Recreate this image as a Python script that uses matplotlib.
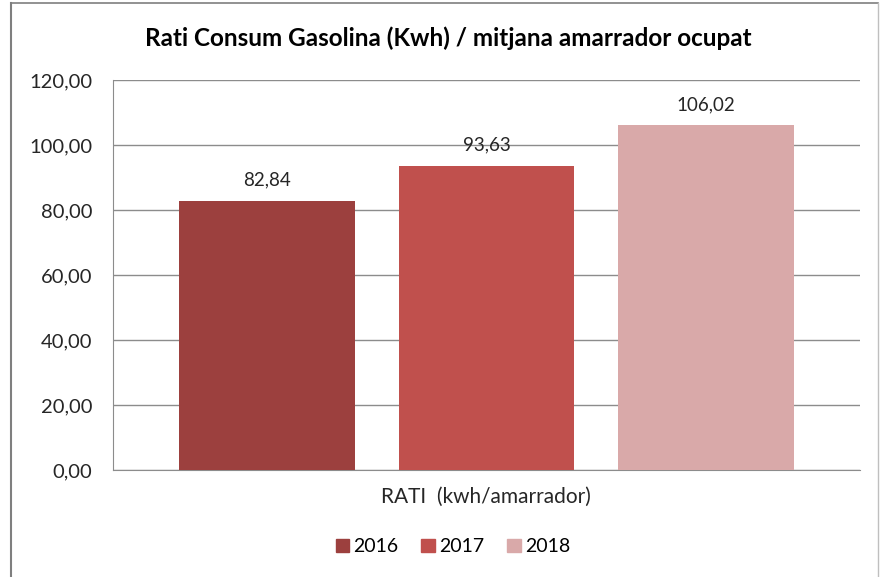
import matplotlib.pyplot as plt
from matplotlib.lines import Line2D

plt.rcParams['font.family'] = ['Lato', 'DejaVu Sans']

# data
years = ['2016', '2017', '2018']
values = [82.84, 93.63, 106.02]
colors = ['#9C403E', '#C0504D', '#D9A9A9']
category = 'RATI  (kwh/amarrador)'
title = 'Rati Consum Gasolina (Kwh) / mitjana amarrador ocupat'


def fmt(v):
    return '{:.2f}'.format(v).replace('.', ',')


fig = plt.figure(figsize=(8.81, 5.77), dpi=100)
ax = fig.add_axes([0.1283, 0.1854, 0.976 - 0.1283, 0.8614 - 0.1854])

positions = [-1, 0, 1]
bars = ax.bar(positions, values, width=0.8, color=colors, label=years, zorder=3)

for b, v in zip(bars, values):
    ax.text(b.get_x() + b.get_width() / 2, v + 3.8, fmt(v), ha='center', va='bottom',
            fontsize=13.5, color='#262626')

ax.set_xlim(-1.7, 1.7)
ax.set_ylim(0, 120)
ticks = [0, 20, 40, 60, 80, 100, 120]
ax.set_yticks(ticks)
ax.set_yticklabels([fmt(t) for t in ticks], fontsize=14.5, color='#262626')
ax.tick_params(axis='y', length=0, pad=15)
ax.set_xticks([])
ax.yaxis.grid(True, color='#8C8C8C', linewidth=1, zorder=0)

for s in ['top', 'right']:
    ax.spines[s].set_visible(False)
ax.spines['left'].set_color('#8C8C8C')
ax.spines['bottom'].set_color('#8C8C8C')

fig.text(0.509, 0.9335, title, ha='center', va='center', fontsize=17.5, fontweight='bold',
         color='#000000')
fig.text(0.552, 0.139, category, ha='center', va='center', fontsize=15, color='#262626')

handles = [plt.Rectangle((0, 0), 1, 1, color=c) for c in colors]
fig.legend(handles, years, loc='center', bbox_to_anchor=(0.514, 0.052), ncol=3, frameon=False,
           fontsize=14, handlelength=0.7, handleheight=0.7, handletextpad=0.2,
           columnspacing=1.2, borderpad=0)

# outer chart border
fig.add_artist(Line2D([0.0125, 0.0125], [0, 0.995], transform=fig.transFigure,
                      color='#7F7F7F', linewidth=1.5))
fig.add_artist(Line2D([0.0125, 0.997], [0.995, 0.995], transform=fig.transFigure,
                      color='#7F7F7F', linewidth=1.2))
fig.add_artist(Line2D([0.997, 0.997], [0, 0.995], transform=fig.transFigure,
                      color='#BFBFBF', linewidth=1))

fig.savefig('out.png', dpi=100)
